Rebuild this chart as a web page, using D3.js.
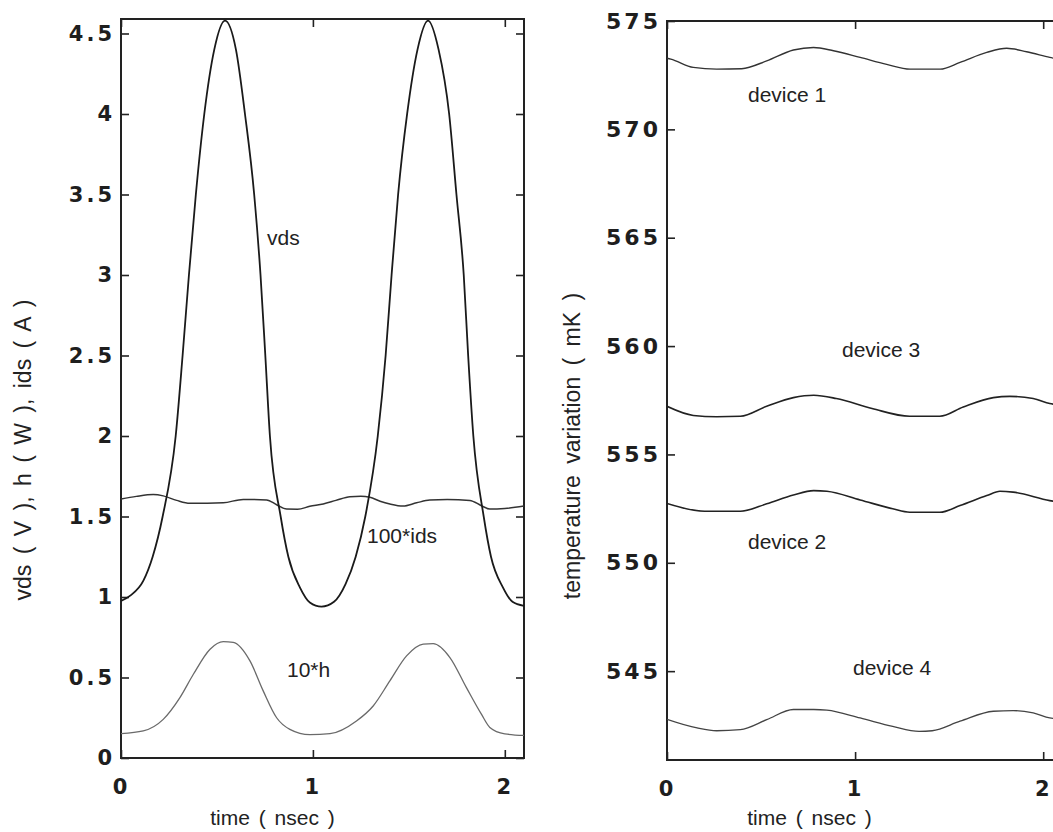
<!DOCTYPE html>
<html><head><meta charset="utf-8">
<script src="https://cdn.jsdelivr.net/npm/d3@7"></script>
<style>body{margin:0;background:#fff;overflow:hidden}</style>
</head><body>
<svg id="chart" width="1053" height="832"></svg>
<script>
// ---------- data ----------
const xTicks = [0, 1, 2];
const xTickLabels = ["0", "1", "2"];
const leftYTicks = [0, 0.5, 1, 1.5, 2, 2.5, 3, 3.5, 4, 4.5];
const leftYTickLabels = ["0", "0.5", "1", "1.5", "2", "2.5", "3", "3.5", "4", "4.5"];
const rightYTicks = [545, 550, 555, 560, 565, 570, 575];
const rightYTickLabels = ["545", "550", "555", "560", "565", "570", "575"];

// left panel: time (nsec), value
const vds = [[0,0.975],[0.05,1.01],[0.116,1.1],[0.165,1.25],[0.217,1.5],[0.285,2.0],[0.321,2.5],[0.354,3.0],[0.39,3.5],[0.434,4.0],[0.486,4.4],[0.542,4.58],[0.599,4.4],[0.646,4.0],[0.694,3.5],[0.727,3.0],[0.752,2.5],[0.776,2.0],[0.832,1.5],[0.872,1.25],[0.932,1.06],[0.984,0.966],[1.045,0.94],[1.11,0.97],[1.17,1.08],[1.223,1.25],[1.273,1.5],[1.338,2.0],[1.379,2.5],[1.41,3.0],[1.444,3.5],[1.491,4.0],[1.545,4.4],[1.60,4.58],[1.655,4.4],[1.71,4.0],[1.748,3.5],[1.786,3.0],[1.809,2.5],[1.836,2.0],[1.89,1.5],[1.928,1.25],[1.99,1.06],[2.04,0.97],[2.1,0.945]];
const ids100 = [[0,1.609],[0.08,1.625],[0.168,1.636],[0.22,1.628],[0.29,1.6],[0.359,1.582],[0.45,1.582],[0.533,1.585],[0.637,1.606],[0.759,1.603],[0.811,1.573],[0.863,1.546],[0.92,1.545],[0.984,1.563],[1.054,1.578],[1.12,1.6],[1.193,1.623],[1.25,1.625],[1.297,1.619],[1.35,1.595],[1.401,1.578],[1.47,1.565],[1.54,1.585],[1.609,1.602],[1.7,1.605],[1.818,1.6],[1.878,1.567],[1.922,1.546],[2.0,1.55],[2.1,1.565]];
const h10 = [[0,0.151],[0.116,0.168],[0.22,0.24],[0.307,0.375],[0.377,0.52],[0.464,0.676],[0.533,0.723],[0.585,0.718],[0.672,0.603],[0.741,0.417],[0.811,0.25],[0.88,0.178],[0.984,0.145],[1.089,0.151],[1.227,0.23],[1.314,0.323],[1.401,0.479],[1.488,0.634],[1.575,0.707],[1.627,0.71],[1.714,0.624],[1.80,0.437],[1.878,0.272],[1.922,0.19],[2.0,0.15],[2.1,0.14]];

// right panel: time (nsec), temperature (mK)
const device1 = [[0,573.28],[0.02,573.24],[0.14,572.86],[0.264,572.78],[0.397,572.8],[0.53,573.16],[0.672,573.66],[0.779,573.78],[0.885,573.63],[1.027,573.32],[1.168,573.0],[1.292,572.78],[1.452,572.78],[1.558,573.09],[1.70,573.55],[1.806,573.74],[1.912,573.58],[2.035,573.32],[2.1,573.2]];
const device3 = [[0,557.22],[0.14,556.8],[0.264,556.74],[0.39,556.76],[0.53,557.22],[0.672,557.62],[0.78,557.73],[0.9,557.58],[1.09,557.12],[1.29,556.76],[1.45,556.76],[1.575,557.19],[1.735,557.62],[1.823,557.68],[1.947,557.58],[2.035,557.35],[2.1,557.25]];
const device2 = [[0,552.74],[0.2,552.38],[0.39,552.38],[0.53,552.72],[0.672,553.13],[0.78,553.33],[0.85,553.3],[1.027,552.9],[1.2,552.49],[1.29,552.33],[1.45,552.33],[1.558,552.64],[1.7,553.1],[1.77,553.3],[1.84,553.26],[2.035,552.87],[2.1,552.78]];
const device4 = [[0,542.78],[0.16,542.38],[0.264,542.25],[0.39,542.3],[0.53,542.76],[0.672,543.23],[0.78,543.23],[0.85,543.2],[1.027,542.84],[1.2,542.45],[1.34,542.22],[1.41,542.25],[1.558,542.69],[1.735,543.15],[1.84,543.18],[1.947,543.07],[2.035,542.84],[2.1,542.78]];

// ---------- drawing ----------
const svg = d3.select("#chart");
svg.append("rect").attr("width",1053).attr("height",832).attr("fill","#fff");
const tickFont = "'DejaVu Sans', sans-serif";
const textFont = "'Liberation Sans', Arial, sans-serif";

function panel(o) {
  const x = d3.scaleLinear().domain([0, 2.1]).range([o.x0, o.x1]);
  const y = d3.scaleLinear().domain(o.yDomain).range([o.y1, o.y0]);
  const g = svg.append("g");
  const id = "clip" + o.name;
  svg.append("clipPath").attr("id", id).append("rect")
    .attr("x", o.x0).attr("y", o.y0).attr("width", o.x1 - o.x0).attr("height", o.y1 - o.y0);

  const ax = [
    d3.axisBottom(x).tickValues(xTicks).tickFormat((d,i)=>xTickLabels[i]).tickSize(-8).tickSizeOuter(0).tickPadding(21),
    d3.axisTop(x).tickValues(xTicks).tickFormat("").tickSize(-8).tickSizeOuter(0),
    d3.axisLeft(y).tickValues(o.yTicks).tickFormat((d,i)=>o.yLabels[i]).tickSize(-8).tickSizeOuter(0).tickPadding(o.yPad),
    d3.axisRight(y).tickValues(o.yTicks).tickFormat("").tickSize(-8).tickSizeOuter(0)
  ];
  const pos = [[0, o.y1], [0, o.y0], [o.x0, 0], [o.x1, 0]];
  ax.forEach((a, i) => {
    const ga = g.append("g").attr("transform", `translate(${pos[i][0]},${pos[i][1]})`).call(a);
    ga.select(".domain").remove();
    ga.selectAll("line").attr("stroke", "#222").attr("stroke-width", 1.6);
    ga.selectAll("text").attr("fill", "#1e1e1e")
      .style("font-family", tickFont).style("font-weight", "bold")
      .style("font-size", (i === 2 ? o.yFs : 21) + "px").style("letter-spacing", (i === 2 ? o.yLs : 3) + "px");
  });

  g.append("rect").attr("x", o.x0).attr("y", o.y0)
    .attr("width", o.x1 - o.x0).attr("height", o.y1 - o.y0)
    .attr("fill", "none").attr("stroke", "#222").attr("stroke-width", 2);

  const line = d3.line().x(d => x(d[0])).y(d => y(d[1])).curve(d3.curveMonotoneX);
  const lg = g.append("g").attr("clip-path", `url(#${id})`);
  o.series.forEach(s => {
    lg.append("path").datum(s.data).attr("d", line)
      .attr("fill", "none").attr("stroke", s.color).attr("stroke-width", s.w);
  });
  o.notes.forEach(n => {
    g.append("text").attr("x", n.x).attr("y", n.y).text(n.t)
      .style("font-family", textFont).style("font-size", "21px").attr("fill", "#222");
  });
  g.append("text").attr("x", (o.x0 + o.x1) / 2 + o.xlabDx).attr("y", 825)
    .attr("text-anchor", "middle").text("time ( nsec )")
    .style("font-family", textFont).style("font-size", "21px").style("word-spacing", "3px").attr("fill", "#222");
  g.append("text").attr("transform", `translate(${o.ylabX},${o.ylabY}) rotate(-90)`)
    .attr("text-anchor", "middle").text(o.ylab)
    .style("font-family", textFont).style("font-size", "23px").style("word-spacing", o.ylabWS + "px").attr("fill", "#222");
}

panel({
  name: "L", x0: 121, x1: 524, y0: 19, y1: 758, yDomain: [0, 4.59],
  yTicks: leftYTicks, yLabels: leftYTickLabels, yPad: 6, yFs: 21, yLs: 3,
  series: [
    {data: h10, color: "#6a6a6a", w: 1.3},
    {data: ids100, color: "#333", w: 1.5},
    {data: vds, color: "#1a1a1a", w: 1.8}
  ],
  notes: [{t: "vds", x: 267, y: 245}, {t: "100*ids", x: 367, y: 543}, {t: "10*h", x: 287, y: 677}],
  xlabDx: -50, ylab: "vds ( V ),  h ( W ),  ids ( A )", ylabX: 31, ylabY: 450, ylabWS: 4
});

panel({
  name: "R", x0: 667, x1: 1062, y0: 21, y1: 760, yDomain: [540.9, 575],
  yTicks: rightYTicks, yLabels: rightYTickLabels, yPad: 6, yFs: 22, yLs: 3,
  series: [
    {data: device1, color: "#333", w: 1.4},
    {data: device3, color: "#222", w: 1.6},
    {data: device2, color: "#222", w: 1.6},
    {data: device4, color: "#444", w: 1.3}
  ],
  notes: [{t: "device 1", x: 748, y: 102}, {t: "device 3", x: 842, y: 357}, {t: "device 2", x: 748, y: 549}, {t: "device 4", x: 853, y: 675}],
  xlabDx: -55, ylab: "temperature variation ( mK )", ylabX: 580, ylabY: 446, ylabWS: 5
});
</script>
</body></html>
